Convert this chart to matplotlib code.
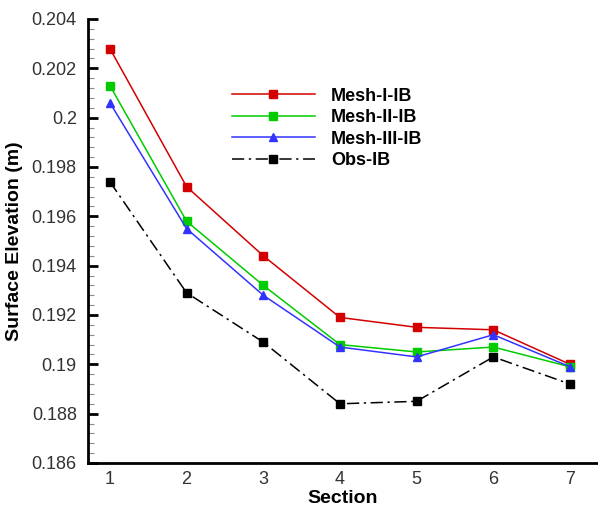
import matplotlib
matplotlib.use("Agg")
import matplotlib.pyplot as plt
from matplotlib.ticker import MultipleLocator, FuncFormatter

plt.rcParams['font.family'] = ['Liberation Sans', 'DejaVu Sans']

# data
sections = [1, 2, 3, 4, 5, 6, 7]
mesh_1 = [0.2028, 0.1972, 0.1944, 0.1919, 0.1915, 0.1914, 0.1900]
mesh_2 = [0.2013, 0.1958, 0.1932, 0.1908, 0.1905, 0.1907, 0.1899]
mesh_3 = [0.2006, 0.1955, 0.1928, 0.1907, 0.1903, 0.1912, 0.1899]
obs = [0.1974, 0.1929, 0.1909, 0.1884, 0.1885, 0.1903, 0.1892]

fig = plt.figure(figsize=(5.98, 5.09), dpi=100)
ax = fig.add_axes([0.147, 0.0904, 0.853, 0.8723])

ax.plot(sections, mesh_1, color='#d40000', lw=1.1, marker='s', ms=5.5, label='Mesh-I-IB')
ax.plot(sections, mesh_2, color='#00cc00', lw=1.1, marker='s', ms=5.5, label='Mesh-II-IB')
ax.plot(sections, mesh_3, color='#3333ff', lw=1.1, marker='^', ms=5.5, label='Mesh-III-IB')
ax.plot(sections, obs, color='black', lw=1.1, ls=(0, (8, 3, 1.5, 3)), marker='s', ms=5.5,
        label='Obs-IB')

ax.set_xlim(0.713, 7.365)
ax.set_ylim(0.186, 0.204)
ax.yaxis.set_major_locator(MultipleLocator(0.002))
ax.yaxis.set_minor_locator(MultipleLocator(0.0004))
ax.yaxis.set_major_formatter(FuncFormatter(lambda v, p: f"{round(v, 4):g}"))
ax.set_xticks(sections)

ax.tick_params(axis='y', which='major', direction='in', length=7, width=2,
               labelsize=13, labelcolor='#333333', pad=8)
ax.tick_params(axis='y', which='minor', direction='in', length=4, width=0.8, color='#888888')
ax.tick_params(axis='x', which='major', direction='in', length=0, labelsize=13,
               labelcolor='#333333', pad=6)

for side in ['top', 'right']:
    ax.spines[side].set_visible(False)
for side in ['left', 'bottom']:
    ax.spines[side].set_linewidth(2)

ax.set_xlabel('Section', fontsize=14, fontweight='bold', labelpad=1)
ax.set_ylabel('Surface Elevation (m)', fontsize=14, fontweight='bold', labelpad=6)

ax.legend(loc='upper left', bbox_to_anchor=(0.25, 0.882), frameon=False,
          prop={'weight': 'bold', 'size': 13}, handlelength=4.6, labelspacing=0.25,
          handletextpad=0.9)

fig.savefig('out.png', dpi=100)
